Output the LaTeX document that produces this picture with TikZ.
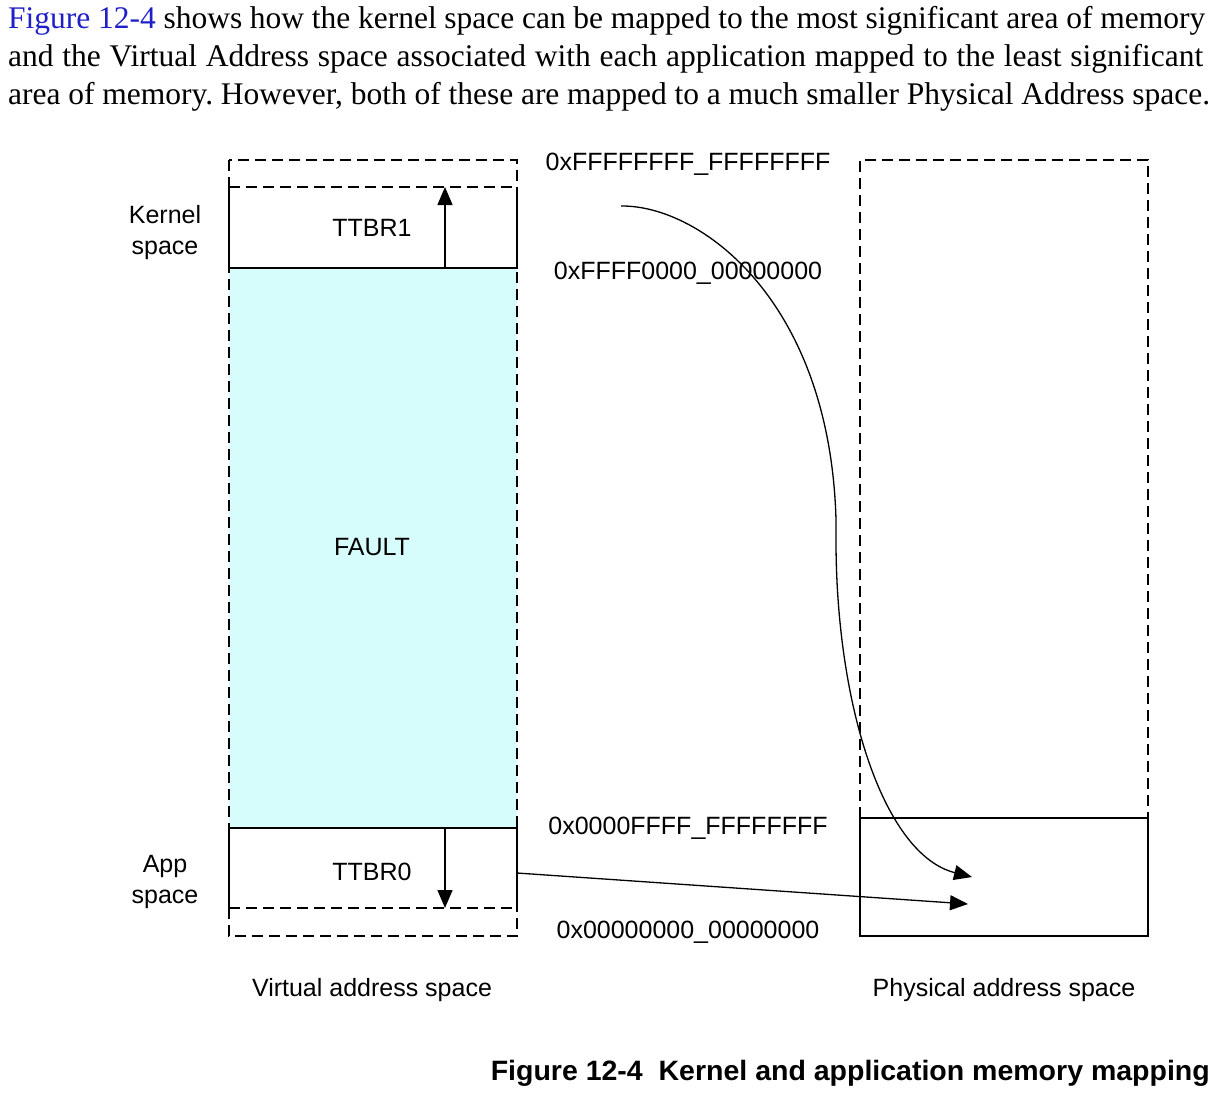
\documentclass[tikz,border=0pt]{standalone}
\usepackage{fontspec}
\setmainfont{Liberation Serif}
\setsansfont{Liberation Sans}
\usetikzlibrary{arrows.meta}
\definecolor{faultcyan}{RGB}{214,252,252}
\definecolor{linkblue}{RGB}{32,32,200}
\frenchspacing
\begin{document}
\begin{tikzpicture}[x=1pt,y=-1pt,
  dashedline/.style={line width=1.4pt,dash pattern=on 11pt off 6pt},
  solidline/.style={line width=1.4pt},
  tip/.style={-{Triangle[length=18pt,width=15pt]}},
  lbl/.style={font=\sffamily\fontsize{25}{31}\selectfont,inner sep=0pt},
  para/.style={font=\rmfamily\fontsize{31.5}{37.5}\selectfont,inner sep=0pt,anchor=base west},
]
\useasboundingbox (0,0) rectangle (1222,1100);
% paragraph
\node[para] (p1) at (8,28.3) {\makebox[1197pt][s]{\textcolor{linkblue}{Figure 12-4} shows how the kernel space can be mapped to the most significant area of memory}};
\node[para] (p2) at (8,66.3) {\makebox[1195pt][s]{and the Virtual Address space associated with each application mapped to the least significant}};
\node[para] (p3) at (8,104.3) {\makebox[1202pt][s]{area of memory. However, both of these are mapped to a much smaller Physical Address space.}};
% left column (virtual)
\fill[faultcyan] (229,268) rectangle (517,828);
\draw[dashedline] (229,160) rectangle (517,936);
\draw[dashedline] (229,187) -- (517,187);
\draw[dashedline] (229,908) -- (517,908);
\draw[solidline] (229,187) -- (229,268) -- (517,268) -- (517,187);
\draw[solidline] (229,908) -- (229,828) -- (517,828) -- (517,908);
\coordinate (k1b) at (445,268);
\coordinate (k1t) at (445,187);
\coordinate (k0t) at (445,828);
\coordinate (k0b) at (445,908);
\draw[solidline,tip] (k1b) -- (k1t);
\draw[solidline,tip] (k0t) -- (k0b);
\node[lbl] (ttbr1) at (372,228) {TTBR1};
\node[lbl] (fault) at (372,547) {FAULT};
\node[lbl] (ttbr0) at (372,872) {TTBR0};
\node[lbl,align=center] (kspace) at (165,233) {Kernel\\space};
\node[lbl,align=center] (aspace) at (165,882) {App\\space};
\node[lbl] (vas) at (372,990) {Virtual address space};
% addresses
\node[lbl] (a1) at (688,164) {0xFFFFFFFF\_FFFFFFFF};
\node[lbl] (a2) at (688,273) {0xFFFF0000\_00000000};
\node[lbl] (a3) at (688,828) {0x0000FFFF\_FFFFFFFF};
\node[lbl] (a4) at (688,932) {0x00000000\_00000000};
% right column (physical)
\draw[dashedline] (860,818) -- (860,160) -- (1148,160) -- (1148,818);
\draw[solidline] (860,818) rectangle (1148,936);
\node[lbl] (pas) at (1004,990) {Physical address space};
% mappings
\coordinate (cstart) at (621,206);
\coordinate (cmid1) at (836,520);
\coordinate (cmid2) at (836,545);
\coordinate (ktarget) at (972,877);
\coordinate (asrc) at (517,873);
\coordinate (atarget) at (968,904);
\draw[line width=1.3pt,tip] (cstart) .. controls (700,205) and (830,300) .. (cmid1) -- (cmid2) .. controls (837,710) and (885,855) .. (ktarget);
\draw[line width=1.3pt,tip] (asrc) -- (atarget);
% caption
\node[inner sep=0pt,anchor=base east] (cap) at (1210,1080) {\resizebox{719pt}{\height}{\sffamily\bfseries\fontsize{28}{34}\selectfont Figure 12-4\ \ Kernel and application memory mapping}};
\end{tikzpicture}
\end{document}
